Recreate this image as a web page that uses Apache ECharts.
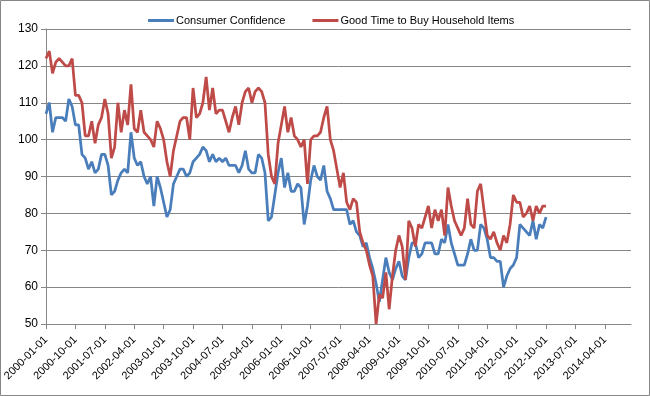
<!DOCTYPE html>
<html>
<head>
<meta charset="utf-8">
<title>Consumer Confidence</title>
<script src="https://cdn.jsdelivr.net/npm/echarts@6.0.0/dist/echarts.min.js"></script>
<style>
    html, body { margin: 0; padding: 0; background: #fff; }
    #chart { width: 650px; height: 396px; }
</style>
</head>
<body>
<div id="chart"></div>
<script>
// monthly categories, the axis runs on to the end of 2014
const firstYear = 2000;
const lastYear = 2014;
const months = [];
for (let y = firstYear; y <= lastYear; y++) {
    for (let m = 1; m <= 12; m++) {
        months.push(y + "-" + String(m).padStart(2, "0") + "-01");
    }
}

const seriesNames = ["Consumer Confidence", "Good Time to Buy Household Items"];

// one row per year, 2000-01 .. 2012-10
const consumerConfidence = [
    107, 110, 102, 106, 106, 106, 105, 111, 109, 104, 104, 96,
    95, 92, 94, 91, 92, 96, 96, 93, 85, 86, 89, 91,
    92, 91, 102, 95, 93, 94, 90, 88, 90, 82, 90, 87,
    83, 79, 81, 88, 90, 92, 92, 90, 91, 94, 95, 96,
    98, 97, 94, 96, 94, 95, 94, 95, 93, 93, 93, 91,
    93, 97, 92, 91, 91, 96, 95, 91, 78, 79, 85, 91,
    95, 87, 91, 86, 86, 88, 87, 77, 82, 89, 93, 90,
    89, 93, 86, 84, 81, 81, 81, 81, 81, 77, 78, 75,
    74, 71, 72, 68, 65, 61, 56, 62, 68, 64, 62, 65,
    67, 63, 62, 68, 72, 72, 68, 69, 72, 72, 72, 69,
    69, 73, 72, 77, 72, 69, 66, 66, 66, 69, 73, 70,
    70, 77, 76, 73, 68, 68, 67, 67, 60, 63, 65, 66,
    68, 77, 76, 75, 74, 78, 73, 77, 76, 79,
];

const goodTimeToBuy = [
    122, 124, 118, 121, 122, 121, 120, 120, 122, 112, 112, 110,
    101, 101, 105, 99, 104, 106, 111, 107, 95, 98, 110, 102,
    108, 104, 115, 103, 102, 108, 102, 101, 100, 98, 105, 103,
    100, 94, 90, 97, 101, 105, 106, 106, 100, 114, 106, 107,
    110, 117, 108, 114, 107, 108, 108, 105, 102, 106, 109, 104,
    110, 113, 114, 110, 113, 114, 113, 110, 96, 90, 88, 99,
    104, 109, 102, 106, 101, 100, 98, 100, 88, 100, 101, 101,
    102, 106, 109, 100, 97, 92, 87, 91, 83, 81, 84, 83,
    75, 72, 70, 66, 63, 50, 58, 57, 64, 54, 63, 70,
    74, 71, 62, 78, 76, 71, 77, 76, 79, 82, 76, 81,
    78, 81, 74, 87, 82, 78, 76, 74, 76, 84, 77, 76,
    86, 88, 81, 74, 73, 75, 72, 70, 74, 72, 77, 85,
    83, 83, 79, 80, 82, 78, 82, 80, 82, 82,
];

const yMin = 50;
const yMax = 130;
const yStep = 10;

const colors = ["#4a7ebb", "#be4b48"];
const gridColor = "#868686";
const fontFamily = "'Liberation Sans', Arial, sans-serif";

const chart = echarts.init(document.getElementById("chart"), null, { renderer: "canvas" });

chart.setOption({
    animation: false,
    backgroundColor: "#ffffff",
    color: colors,
    textStyle: { fontFamily: fontFamily },
    graphic: [{
        // frame round the whole chart, as excel draws it
        type: "rect",
        shape: { x: 0.5, y: 0.5, width: 649, height: 395 },
        style: { fill: null, stroke: gridColor, lineWidth: 1 },
        silent: true,
    }],
    legend: {
        left: 143,
        top: 10,
        icon: "rect",
        itemWidth: 26,
        itemHeight: 3,
        itemGap: 27,
        textStyle: { fontSize: 11, color: "#000", fontFamily: fontFamily, padding: [0, 0, 0, -3] },
        data: seriesNames,
    },
    grid: {
        left: 46,
        right: 19,
        top: 29,
        bottom: 72,
    },
    xAxis: {
        type: "category",
        data: months,
        boundaryGap: false,
        axisLine: { lineStyle: { color: gridColor, width: 1 } },
        axisTick: { interval: 8, length: 5, lineStyle: { color: gridColor } },
        axisLabel: {
            interval: 8,
            rotate: 45,
            margin: 14,
            fontSize: 11,
            color: "#000",
            fontFamily: fontFamily,
        },
        splitLine: { show: false },
    },
    yAxis: {
        type: "value",
        min: yMin,
        max: yMax,
        interval: yStep,
        axisLine: { show: true, lineStyle: { color: gridColor, width: 1 } },
        axisTick: { show: true, length: 5, lineStyle: { color: gridColor } },
        axisLabel: { fontSize: 12, color: "#000", margin: 8, fontFamily: fontFamily },
        splitLine: { lineStyle: { color: gridColor, width: 1 } },
    },
    series: [
        {
            name: seriesNames[0],
            type: "line",
            data: consumerConfidence,
            symbol: "none",
            lineStyle: { width: 2.75, color: colors[0] },
        },
        {
            name: seriesNames[1],
            type: "line",
            data: goodTimeToBuy,
            symbol: "none",
            lineStyle: { width: 2.75, color: colors[1] },
        },
    ],
});
</script>
</body>
</html>
